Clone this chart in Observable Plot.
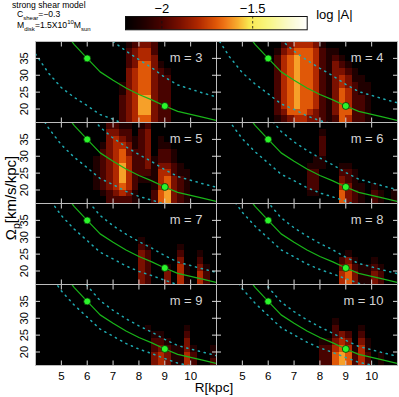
<!DOCTYPE html>
<html><head><meta charset="utf-8">
<script src="https://cdn.jsdelivr.net/npm/d3@7"></script>
<script src="https://cdn.jsdelivr.net/npm/@observablehq/plot@0.6"></script>
<style>
body{margin:0;background:#fff;}
#wrap{position:relative;width:399px;height:397px;font-family:"Liberation Sans",Arial,sans-serif;color:#000;}
#wrap svg{position:absolute;left:0;top:0;}
.t{position:absolute;white-space:nowrap;line-height:1;}
.t sub,.t sup{font-size:70%;line-height:0;}
</style></head><body><div id="wrap"></div>
<script>
// ---- data ----
const R      = [4, 4.5, 5, 5.5, 6, 6.5, 7, 7.5, 8, 8.5, 9, 9.5, 10, 10.5, 11];          // kpc
const omega  = [57, 50, 44, 39.1, 35.0, 31.0, 28.5, 26.2, 24.3, 22.7, 20.9, 19.3, 18.4, 17.5, 16.6]; // green curve
const kappa  = [62, 58, 53, 47, 42, 38, 34.5, 33, 31, 28.5, 25.5, 23.5, 22.5, 21.5, 21];   // epicyclic freq.
const markR = [6, 9];
const markOmega = [35.0, 20.9];
const modes = [3, 4, 5, 6, 7, 8, 9, 10];
const xTicks = [5, 6, 7, 8, 9, 10];
const yTicks = [20, 25, 30, 35];
const cbTicks = [-2, -1.5];
const logRange = [-2.2, -1.2];
// colour table of the colour bar (position 0..1 along the bar -> colour)
const rampStops  = [0, .1, .2, .3, .4, .5, .55, .62, .68, .78, .9, 1];
const rampColors = ["#000000", "#200000", "#480300", "#7a1000", "#b02800", "#e05808", "#f07818", "#f8b030", "#f8e850", "#f8f680", "#fafacc", "#ffffff"];
// heat map grid: R bins of 0.25 kpc, Omega bins of 2 km/s/kpc starting at 16
const binR = 0.25, binOmega = 2, omegaMin = 16;
// per panel: [R bin start, level digits for Omega bins from bottom to top]; level d -> log|A| = -2.2 + 0.1 d
const heat3 = [[7.25,"222211000000"],[7.5,"333333332221"],[7.75,"444444443332"],[8.0,"566655555443"],[8.25,"566655555443"],[8.5,"333333333322"],[8.75,"222222221000"],[9.0,"222222210000"]];
const heat4 = [[6.25,"122222222210"],[6.5,"234444444432"],[6.75,"355555555543"],[7.0,"456666666654"],[7.25,"455555555554"],[7.5,"345555555554"],[7.75,"334444444443"],[8.0,"222222222221"],[8.25,"111111111110"],[8.5,"233333333210"],[8.75,"555554432100"],[9.0,"454443321000"],[9.25,"222222110000"],[9.5,"222211100000"],[9.75,"111111000000"]];
const heat5 = [[6.25,"001111100000"],[6.5,"012222221000"],[6.75,"223333333332"],[7.0,"234444444432"],[7.25,"245666554321"],[7.5,"234444433221"],[7.75,"112222221100"],[8.0,"000122222221"],[8.25,"000123333332"],[8.5,"221111100000"],[8.75,"554443221100"],[9.0,"665543221000"],[9.25,"333322110000"],[9.5,"222211000000"],[9.75,"111110000000"]];
const heat6 = [[7.5,"012221000000"],[7.75,"012221100000"],[8.0,"000001122210"],[8.75,"554321000000"],[9.0,"333221000000"],[9.25,"221110000000"],[9.5,"111000000000"],[10.0,"221000000000"],[10.25,"110000000000"],[10.75,"110000000000"]];
const heat7 = [[8.0,"333332100000"],[8.25,"222221000000"],[9.0,"331000000000"],[9.5,"444321000000"],[9.75,"111000000000"],[10.25,"443210000000"],[10.5,"221000000000"]];
const heat8 = [[8.75,"443200000000"],[9.0,"554310000000"],[9.25,"332100000000"],[9.5,"111000000000"],[9.75,"111000000000"],[10.0,"332100000000"],[10.25,"221000000000"]];
const heat9 = [[8.25,"000001000000"],[8.5,"332210000000"],[8.75,"443210000000"],[9.0,"332100000000"],[9.25,"111000000000"],[9.5,"111000000000"],[9.75,"443321000000"],[10.0,"221000000000"],[10.75,"211000000000"]];
const heat10 = [[8.0,"222100000000"],[8.25,"222100000000"],[8.5,"554322100000"],[8.75,"665430000000"],[9.0,"554320000000"],[9.25,"221000000000"],[9.5,"444321000000"],[9.75,"221100000000"],[10.25,"110000000000"]];
const heatByPanel = [heat3, heat4, heat5, heat6, heat7, heat8, heat9, heat10];

// ---- tables for the library ----
const panels = modes.map((m, p) => ({m, col: p % 2, row: Math.floor(p / 2), label: `m = ${m}`}));
const cells = [];
panels.forEach((pn, p) => {
  for (const [r0, s] of heatByPanel[p]) {
    [...s].forEach((ch, j) => {
      const d = +ch; if (!d) return;
      cells.push({col: pn.col, row: pn.row, x1: r0, x2: r0 + binR,
        y1: omegaMin + binOmega * j, y2: omegaMin + binOmega * (j + 1), v: logRange[0] + 0.1 * d});
    });
  }
});
const resonance = [];
panels.forEach(pn => {
  R.forEach((r, i) => {
    resonance.push({col: pn.col, row: pn.row, key: "inner", R: r, w: omega[i] - kappa[i] / pn.m});
    resonance.push({col: pn.col, row: pn.row, key: "outer", R: r, w: omega[i] + kappa[i] / pn.m});
  });
});
const curve = R.map((r, i) => ({R: r, w: omega[i]}));
const marks = markR.map((r, i) => ({R: r, w: markOmega[i]}));

const span = logRange[1] - logRange[0];
const colorOpts = {type: "linear", domain: rampStops.map(t => logRange[0] + t * span), range: rampColors, interpolate: "rgb", clamp: true};
const font = "Liberation Sans, Arial, sans-serif";
const tickStroke = "#d6d6d6";
const intFmt = d => String(d);

const main = Plot.plot({
  width: 399, height: 397,
  marginLeft: 35, marginRight: 2, marginTop: 40, marginBottom: 31,
  style: {fontFamily: font, background: "transparent"},
  x: {domain: [4, 11]},
  y: {domain: [16, 40]},
  fx: {domain: [0, 1], padding: 0, axis: null},
  fy: {domain: [0, 1, 2, 3], padding: 0, axis: null},
  color: colorOpts,
  marks: [
    Plot.frame({fill: "black", stroke: "none"}),
    Plot.rect(cells, {x1: "x1", x2: "x2", y1: "y1", y2: "y2", fill: "v", fx: "col", fy: "row", shapeRendering: "crispEdges"}),
    Plot.line(resonance, {x: "R", y: "w", z: "key", fx: "col", fy: "row", stroke: "#1fa9b0", strokeWidth: 1.5, strokeDasharray: "1.2 4.8", clip: true}),
    Plot.line(curve, {x: "R", y: "w", stroke: "#19b519", strokeWidth: 1.2, clip: true}),
    Plot.dot(marks, {x: "R", y: "w", r: 3.5, fill: "#2bf52b", stroke: "#053005", strokeWidth: 0.8}),
    Plot.text(panels, {fx: "col", fy: "row", text: "label", frameAnchor: "top-right", dx: -14, dy: 16, textAnchor: "end", lineAnchor: "middle", fill: "#d4d4d4", fontSize: 13}),
    Plot.frame({stroke: "#bdbdbd", strokeWidth: 1}),
    Plot.axisX({anchor: "bottom", ticks: xTicks, tickSize: -4.5, tickFormat: () => "", stroke: tickStroke, facetAnchor: null, label: null}),
    Plot.axisX({anchor: "top", ticks: xTicks, tickSize: -4.5, tickFormat: () => "", stroke: tickStroke, facetAnchor: null, label: null}),
    Plot.axisY({anchor: "left", ticks: yTicks, tickSize: -5, tickFormat: () => "", stroke: tickStroke, facetAnchor: null, label: null}),
    Plot.axisY({anchor: "right", ticks: yTicks, tickSize: -5, tickFormat: () => "", stroke: tickStroke, facetAnchor: null, label: null}),
    Plot.axisX({anchor: "bottom", ticks: xTicks, tickSize: 0, tickPadding: 6, fontSize: 11.5, tickFormat: intFmt, facetAnchor: "bottom", label: null}),
    Plot.axisY({anchor: "left", ticks: yTicks, tickSize: 0, tickPadding: 8, tickRotate: -90, fontSize: 11, tickFormat: intFmt, facetAnchor: "left", label: null})
  ]
});

const bar = Plot.plot({
  width: 399, height: 34,
  marginLeft: 125, marginRight: 92.3, marginTop: 16, marginBottom: 4.7,
  style: {fontFamily: font, background: "transparent", overflow: "visible"},
  x: {domain: logRange},
  y: {domain: [0, 1], axis: null},
  color: colorOpts,
  marks: [
    Plot.raster({x1: logRange[0], x2: logRange[1], y1: 0, y2: 1, fill: (x) => x, imageRendering: "auto"}),
    Plot.ruleX(cbTicks, {stroke: "#111", strokeDasharray: "2.5 2.5", strokeWidth: 0.8}),
    Plot.frame({stroke: "#111"}),
    Plot.axisX({anchor: "top", ticks: cbTicks, tickSize: 0, tickPadding: 4, fontSize: 13, tickFormat: d => "\u2212" + Math.abs(d), label: null}),
    Plot.text(["log |A|"], {frameAnchor: "right", dx: 9, dy: -8, textAnchor: "start", lineAnchor: "middle", fontSize: 13})
  ]
});

const wrap = document.getElementById("wrap");
wrap.appendChild(main);
wrap.appendChild(bar);
const addText = (html, css) => { const d = document.createElement("div"); d.className = "t"; d.innerHTML = html; Object.assign(d.style, css); wrap.appendChild(d); };
addText("strong shear model", {left: "12px", top: "1px", fontSize: "8.6px"});
addText("C<sub>shear</sub>=\u22120.3", {left: "17px", top: "10px", fontSize: "8.6px"});
addText("M<sub>disk</sub>=1.5X10<sup>10</sup>M<sub>sun</sub>", {left: "17px", top: "21px", fontSize: "8.6px"});
addText("R[kpc]", {left: "214px", top: "381px", fontSize: "13.5px", transform: "translateX(-50%)"});
addText("\u03a9<sub>p</sub>[km/s/kpc]", {left: "10px", top: "198px", fontSize: "15px", transform: "translate(-50%,-50%) rotate(-90deg)"});
</script></body></html>
